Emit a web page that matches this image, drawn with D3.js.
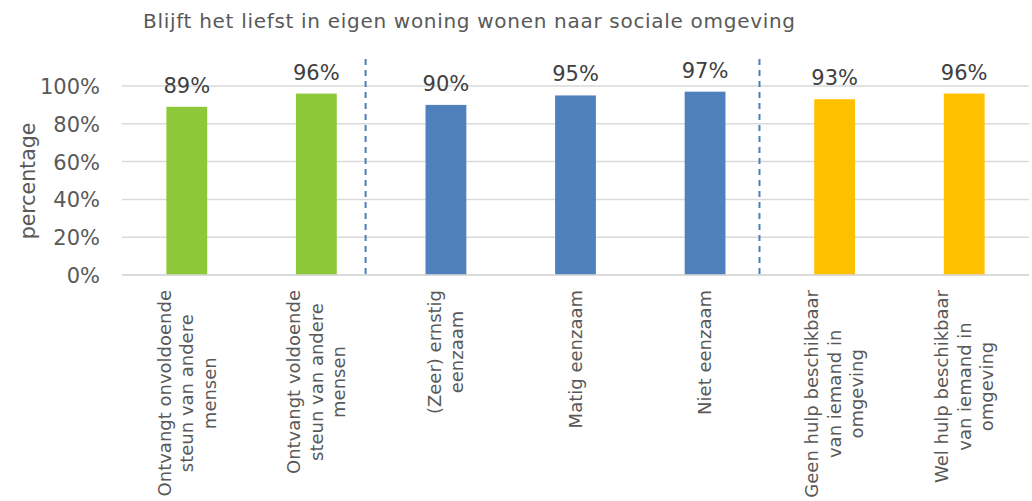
<!DOCTYPE html>
<html><head><meta charset="utf-8">
<script src="https://cdn.jsdelivr.net/npm/d3@7"></script>
<style>body{margin:0;background:#fff}svg{display:block}text{font-family:"DejaVu Sans",Verdana,sans-serif}</style>
</head><body>
<svg id="c" width="1032" height="501"></svg>
<script>
const title = "Blijft het liefst in eigen woning wonen naar sociale omgeving";
const categories = [
  ["Ontvangt onvoldoende","steun van andere","mensen"],
  ["Ontvangt voldoende","steun van andere","mensen"],
  ["(Zeer) ernstig","eenzaam"],
  ["Matig eenzaam"],
  ["Niet eenzaam"],
  ["Geen hulp beschikbaar","van iemand in","omgeving"],
  ["Wel hulp beschikbaar","van iemand in","omgeving"]
];
const values = [0.89, 0.96, 0.90, 0.95, 0.97, 0.93, 0.96];
const groups = ["steun","steun","eenzaam","eenzaam","eenzaam","hulp","hulp"];
const groupColors = {steun:"#8cc83a", eenzaam:"#4f81bd", hulp:"#ffc000"};
const yTicks = [0, 0.2, 0.4, 0.6, 0.8, 1.0];
const separators = [1.88, 4.92]; // in category-index units
const yLabel = "percentage";

const svg = d3.select("#c");
const L = 122, R = 1029, T = 86, B = 275;
const ids = categories.map((c,i)=>i);
const x = d3.scaleBand().domain(ids).range([L,R]).paddingInner(0).paddingOuter(0);
const xi = d3.scaleLinear().domain([0, categories.length]).range([L,R]);
const y = d3.scaleLinear().domain([0,1]).range([B,T]);

// title
const tt = svg.append("text").attr("x",143).attr("y",28).attr("fill","#595959")
  .attr("font-size",20).text(title);
const tl = tt.node().getComputedTextLength();
tt.attr("textLength", 652).attr("lengthAdjust","spacing");

// gridlines
svg.append("g").selectAll("line").data(yTicks).join("line")
  .attr("x1",L).attr("x2",R).attr("y1",d=>y(d)).attr("y2",d=>y(d))
  .attr("stroke","#d9d9d9").attr("stroke-width",1.5);

// y axis labels
const yAxis = d3.axisLeft(y).tickValues(yTicks).tickFormat(d3.format(".0%")).tickSize(0).tickPadding(0);
const gy = svg.append("g").attr("transform","translate(100,0)").call(yAxis);
gy.select(".domain").remove();
gy.selectAll("text").attr("font-size",21).attr("fill","#595959").attr("font-family","DejaVu Sans").attr("dy","0.36em");

svg.append("text").attr("transform","translate(35,181) rotate(-90)")
  .attr("text-anchor","middle").attr("font-size",20.5).attr("fill","#595959").text(yLabel);

// bars
const bw = x.bandwidth()*0.315;
svg.append("g").selectAll("rect").data(values).join("rect")
  .attr("x",(d,i)=>x(i)+x.bandwidth()/2-bw/2).attr("width",bw)
  .attr("y",d=>y(d)).attr("height",d=>y(0)-y(d))
  .attr("fill",(d,i)=>groupColors[groups[i]]);

// value labels
svg.append("g").selectAll("text").data(values).join("text")
  .attr("x",(d,i)=>x(i)+x.bandwidth()/2).attr("y",d=>y(d)-14)
  .attr("text-anchor","middle").attr("font-size",21).attr("fill","#404040")
  .text(d=>d3.format(".0%")(d));

// separators
svg.append("g").selectAll("line").data(separators).join("line")
  .attr("x1",d=>xi(d)).attr("x2",d=>xi(d)).attr("y1",59).attr("y2",B)
  .attr("stroke","#4a7ebb").attr("stroke-width",2).attr("stroke-dasharray","6,5");

// x category labels
const fs = 18, lh = 22.5;
categories.forEach((lines,i)=>{
  const cx = x(i)+x.bandwidth()/2;
  const g = svg.append("g");
  const t = g.append("text").attr("font-size",fs).attr("fill","#595959").attr("text-anchor","middle");
  lines.forEach((ln,k)=>{
    t.append("tspan").attr("x",0).attr("y",(k-(lines.length-1)/2)*lh).attr("dy","0.35em").text(ln);
  });
  const maxLen = d3.max(t.selectAll("tspan").nodes(), n=>n.getComputedTextLength());
  g.attr("transform",`translate(${cx},${290+maxLen/2}) rotate(-90)`);
});

// x axis line
svg.append("line").attr("x1",L).attr("x2",R).attr("y1",B).attr("y2",B)
  .attr("stroke","#d9d9d9").attr("stroke-width",1.5);
</script>
</body></html>
